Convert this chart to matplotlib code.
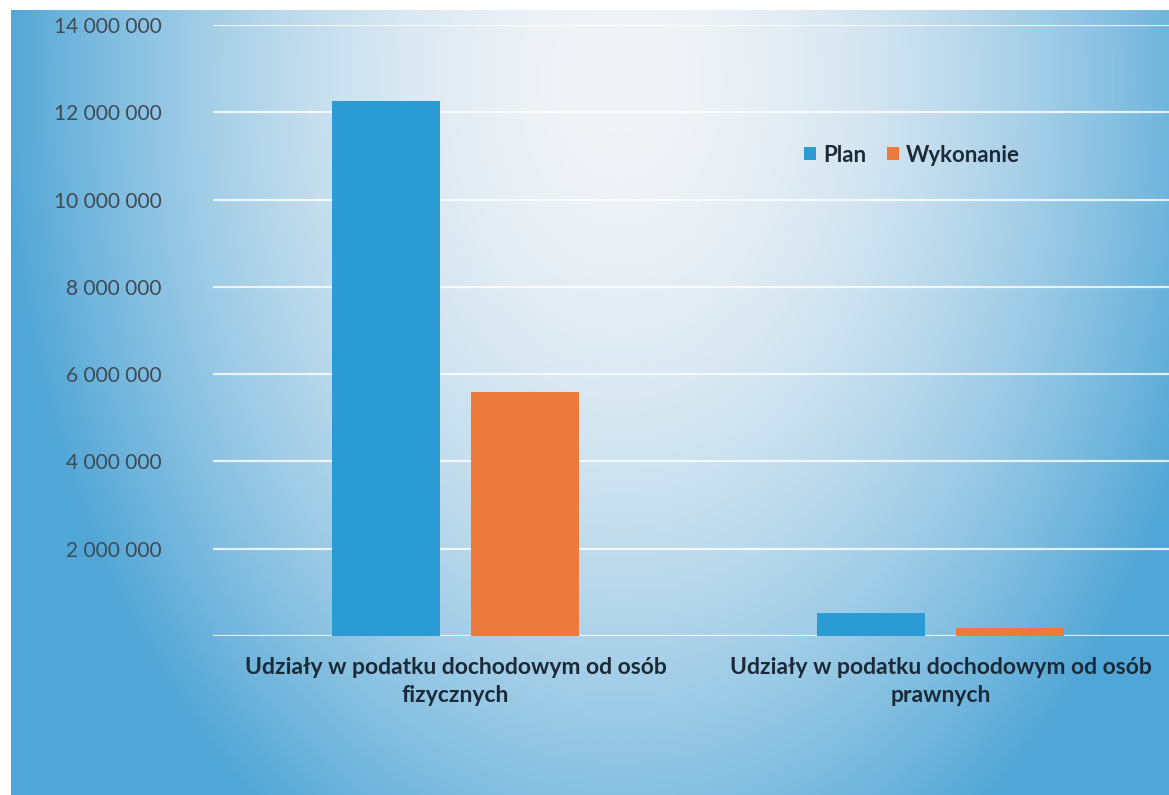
import numpy as np
import matplotlib
matplotlib.use("Agg")
import matplotlib.pyplot as plt
from matplotlib.patches import Patch

categories = ["Udziały w podatku dochodowym od osób\nfizycznych",
              "Udziały w podatku dochodowym od osób\nprawnych"]
series_names = ["Plan", "Wykonanie"]
plan = [12260000, 520000]
wykonanie = [5590000, 190000]
y_ticks = [0, 2000000, 4000000, 6000000, 8000000, 10000000, 12000000, 14000000]
y_tick_labels = ["", "2 000 000", "4 000 000", "6 000 000", "8 000 000",
                 "10 000 000", "12 000 000", "14 000 000"]

W, H = 1169, 795
plt.rcParams['font.family'] = ['Lato', 'DejaVu Sans']

fig = plt.figure(figsize=(W / 100, H / 100), dpi=100)
fig.patch.set_facecolor("white")

# background gradient
bg = fig.add_axes([0, 0, 1, 1])
bg.set_xlim(0, W)
bg.set_ylim(H, 0)
bg.axis("off")
xs = np.arange(11, W)
ys = np.arange(10, H)
X, Y = np.meshgrid(xs, ys)
cx, cy = 620, 80
d = np.sqrt(((X - cx) / 620.0) ** 2 + ((Y - cy) / 900.0) ** 2)
t = np.clip(d, 0, 1) ** 1.8
light = np.array([242, 244, 247]) / 255.0
dark = np.array([80, 166, 214]) / 255.0
img = light[None, None, :] * (1 - t[..., None]) + dark[None, None, :] * t[..., None]
bg.imshow(img, extent=(11, W, H, 10), aspect="auto", interpolation="bilinear", zorder=0)

# main axes
left, right, top, bottom = 213, 1183, 25, 636
ax = fig.add_axes([left / W, 1 - bottom / H, (right - left) / W, (bottom - top) / H])
ax.set_facecolor("none")
ax.set_xlim(-0.5, 1.5)
ax.set_ylim(0, 14000000)
for s in ax.spines.values():
    s.set_visible(False)

x = np.arange(len(categories))
bw = 0.222
off = 0.143
ax.bar(x - off, plan, width=bw, color="#2b9bd3", zorder=3)
ax.bar(x + off, wykonanie, width=bw, color="#ec7a3d", zorder=3)

ax.set_yticks(y_ticks)
ax.set_yticklabels(y_tick_labels, fontsize=15, color="#404a55")
ax.yaxis.grid(True, color="white", linewidth=1.6, alpha=0.8, zorder=1)
ax.tick_params(axis="y", length=0, pad=37)
ax.set_xticks(x)
ax.set_xticklabels(categories, fontsize=16.5, fontweight="bold", color="#1c2a38",
                   linespacing=1.45)
ax.tick_params(axis="x", length=0, pad=15)

handles = [Patch(facecolor="#2b9bd3"), Patch(facecolor="#ec7a3d")]
leg = fig.legend(handles, series_names, loc="center", bbox_to_anchor=(912 / W, 1 - 155 / H),
                 ncol=2, frameon=False, handlelength=0.55, handleheight=0.55,
                 handletextpad=0.3, columnspacing=0.95,
                 prop={"family": "Lato", "weight": "bold", "size": 16})
for txt in leg.get_texts():
    txt.set_color("#1c2a38")

fig.savefig("out.png", dpi=100)
